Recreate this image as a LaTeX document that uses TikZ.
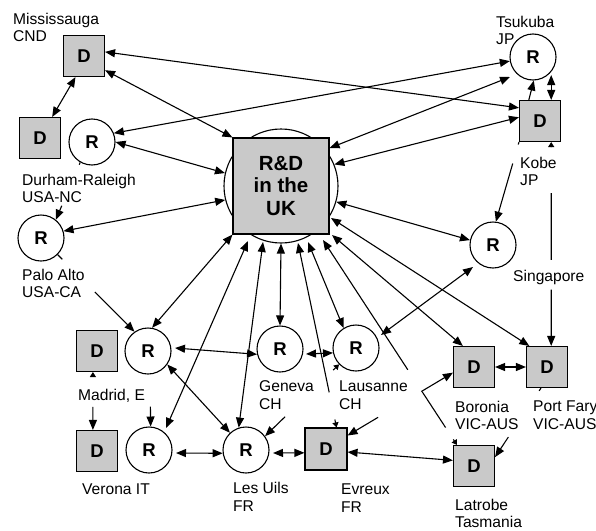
\documentclass[tikz,border=0pt]{standalone}
\usepackage{fontspec}
\setmainfont{Liberation Sans}
\usetikzlibrary{arrows.meta,calc}
\definecolor{boxgray}{RGB}{201,201,201}
\begin{document}
\begin{tikzpicture}[x=1pt,y=-1pt,
  con/.style={line width=1.1pt},
  twohead/.style={con,{Triangle[length=10pt,width=8pt]}-{Triangle[length=10pt,width=8pt]}},
  tohead/.style={con,-{Triangle[length=10pt,width=8pt]}},
  fromhead/.style={con,{Triangle[length=10pt,width=8pt]}-},
  stubfrom/.style={con,{Triangle[length=5pt,width=6pt]}-},
  stubto/.style={con,-{Triangle[length=5pt,width=6pt]}},
  dbox/.style={draw,line width=1.1pt,fill=boxgray,minimum size=41pt,inner sep=0pt,
    font=\fontsize{18.5}{20}\selectfont\bfseries},
  rcirc/.style={circle,draw,line width=1.1pt,fill=white,minimum size=46pt,inner sep=0pt,
    font=\fontsize{18.5}{20}\selectfont\bfseries},
  place/.style={anchor=north west,align=left,inner sep=0pt,
    font=\fontsize{15.6}{17.5}\selectfont}]
\useasboundingbox (0,0) rectangle (596,530);

% central hub
\node[circle,draw,line width=1.1pt,fill=white,minimum size=114pt] (ukc) at (281,186) {};
\node[draw,line width=1.1pt,fill=boxgray,minimum size=96pt,inner sep=0pt,align=center,
  font=\fontsize{20.5}{22.5}\selectfont\bfseries] (uk) at (281,186) {R\&D\\in the\\UK};

% sites
\node[dbox] (miss) at (84,56) {D};
\node[dbox] (durd) at (40,138) {D};
\node[rcirc] (durr) at (92,142) {R};
\node[rcirc] (palo) at (41,238) {R};
\node[rcirc] (tsu) at (533,57) {R};
\node[dbox] (kobe) at (540,121) {D};
\node[rcirc] (sing) at (493,245) {R};
\node[dbox] (madd) at (97,351) {D};
\node[rcirc] (madr) at (148,351) {R};
\node[dbox] (verd) at (97,451) {D};
\node[rcirc] (verr) at (149,450) {R};
\node[rcirc] (les) at (246,450) {R};
\node[rcirc] (gen) at (280,349) {R};
\node[rcirc] (lau) at (356,348) {R};
\node[dbox,minimum size=42pt] (evr) at (326,449) {D};
\node[dbox] (bor) at (474,367) {D};
\node[dbox] (port) at (547,367) {D};
\node[dbox] (lat) at (474,466) {D};

% attachment points on the hub
\coordinate (ub) at ([shift={(-33,55)}]uk.center);
\coordinate (uc) at ([shift={(-18,56)}]uk.center);
\coordinate (ue) at ([shift={(17,57)}]uk.center);
\coordinate (uf) at ([shift={(27,56)}]uk.center);
\coordinate (ug) at ([shift={(42,54)}]uk.center);
\coordinate (uh) at ([shift={(51,49)}]uk.center);
\coordinate (ui) at ([shift={(50,32)}]uk.center);
% attachment points offset from site centres
\coordinate (tsuA) at ([shift={(-23,20)}]tsu.center);
\coordinate (singA) at ([shift={(-20,22)}]sing.center);
\coordinate (lauA) at ([shift={(25,-13)}]lau.center);
\coordinate (verA) at ([shift={(17,-22)}]verr.center);
\coordinate (madA) at ([shift={(27,-3)}]madr.center);
\coordinate (verB) at ([shift={(27,3)}]verr.center);
\coordinate (lesB) at ([shift={(27,3)}]les.center);
\coordinate (genB) at ([shift={(26,5)}]gen.center);
\coordinate (kt) at (kobe.62 |- tsu.-50);
\coordinate (kp) at (kobe.-62 |- port.north);
\coordinate (mv) at (madd.259 |- verd.north);

% upper links
\draw[twohead] (miss.11) -- (kobe.148);
\draw[twohead] (durr.22) -- (tsu.190);
\draw[twohead] (miss.248) -- (durd.60);
\draw[twohead] (miss.-34) -- (uk.north west);
\draw[twohead] (durr.0) -- (ukc.167);
\draw[twohead] (palo.17) -- (ukc.194);
\draw[twohead] (tsuA) -- (uk.38);
\draw[twohead] (kobe.170) -- (ukc.22);
\draw[twohead] (sing.168) -- (ukc.-16);
\draw[twohead] (singA) -- (lauA);
\draw[tohead] (kobe.118) -- (tsu.-88);
\draw[twohead] (kobe.62) -- (kt);

% Kobe to Singapore
\draw[con] (kobe.south west) -- ($(kobe.south west)!0.03!(sing.83)$);
\draw[tohead] ($(kobe.south west)!0.27!(sing.83)$) -- (sing.83);
% Kobe to Port Fary
\draw[stubfrom] (kobe.-62) -- ($(kobe.-62)!0.025!(kp)$);
\draw[con] ($(kobe.-62)!0.25!(kp)$) -- ($(kobe.-62)!0.578!(kp)$);
\draw[tohead] ($(kobe.-62)!0.724!(kp)$) -- (kp);

% Durham-Raleigh to Palo Alto
\draw[con] (durr.-120) -- ($(durr.-120)!0.04!(palo.51)$);
\draw[tohead] ($(durr.-120)!0.756!(palo.51)$) -- (palo.51);
% Palo Alto to Madrid
\draw[con] (palo.-45) -- ($(palo.-45)!0.06!(madr.125)$);
\draw[tohead] ($(palo.-45)!0.484!(madr.125)$) -- (madr.125);

% hub to lower sites
\draw[twohead] (uk.south west) -- (madr.80);
\draw[twohead] (ub) -- (verA);
\draw[twohead] (uc) -- (les.108);
\draw[twohead] (ukc.270) -- (gen.north);
\draw[fromhead] (ue) -- ($(ue)!0.81!(evr.64)$);
\draw[stubto] ($(ue)!0.957!(evr.64)$) -- (evr.64);
\draw[twohead] (uf) -- (lau.122);
\draw[fromhead] (ug) -- ($(ug)!0.633!(lat.129)$);
\draw[con] ($(ug)!0.74!(lat.129)$) -- ($(ug)!0.915!(lat.129)$);
\draw[stubto] ($(ug)!0.973!(lat.129)$) -- (lat.129);
\draw[twohead] (uh) -- (bor.118);
\draw[twohead] (ui) -- (port.130);

% Madrid and Verona
\draw[stubfrom] (madd.259) -- ($(madd.259)!0.08!(mv)$);
\draw[tohead] ($(madd.259)!0.60!(mv)$) -- (mv);
\draw[tohead] ($(madr.-85)!0.62!(verr.86)$) -- (verr.86);
\draw[twohead] (madA) -- (gen.193);
\draw[twohead] (madr.-35) -- (les.133);
\draw[twohead] (verB) -- (les.188);

% Les Uils, Geneva, Lausanne, Evreux
\draw[twohead] (lesB) -- (evr.190);
\draw[twohead] (genB) -- (lau.192);
\draw[stubfrom] (lau.224) -- ($(lau.224)!0.08!(les.36)$);
\draw[tohead] ($(lau.224)!0.73!(les.36)$) -- (les.36);
\draw[twohead] (evr.-8) -- (lat.165);
\draw[fromhead] (evr.32.5) -- ($(evr.32.5)!0.29!(bor.195)$);
\draw[tohead] ($(evr.32.5)!0.70!(bor.195)$) -- (bor.195);

% Australian sites
\draw[twohead] (bor.east) -- (port.west);
\draw[con] (port.254) -- ($(port.254)!0.04!(lat.23)$);
\draw[tohead] ($(port.254)!0.71!(lat.23)$) -- (lat.23);

% place names (top of first line)
\node[place] (lmiss) at (13,12.7) {Mississauga\\CND};
\node[place] (ldur) at (22,173.7) {Durham-Raleigh\\USA-NC};
\node[place] (lpalo) at (22,268.7) {Palo Alto\\USA-CA};
\node[place] (ltsu) at (496,15.7) {Tsukuba\\JP};
\node[place] (lkobe) at (520,156.7) {Kobe\\JP};
\node[place] (lsing) at (513,269.7) {Singapore};
\node[place] (lmad) at (78,388.7) {Madrid, E};
\node[place] (lver) at (82,483.7) {Verona IT};
\node[place,font=\fontsize{15.6}{18.5}\selectfont] (lles) at (233,481.7) {Les Uils\\FR};
\node[place] (lgen) at (259,380.7) {Geneva\\CH};
\node[place] (llau) at (339,380.7) {Lausanne\\CH};
\node[place] (levr) at (341,483.7) {Evreux\\FR};
\node[place] (lbor) at (455,400.7) {Boronia\\VIC-AUS};
\node[place] (lport) at (533,400.7) {Port Fary\\VIC-AUS};
\node[place,font=\fontsize{15.6}{16.5}\selectfont] (llat) at (455,499.2) {Latrobe\\Tasmania};
\end{tikzpicture}
\end{document}
